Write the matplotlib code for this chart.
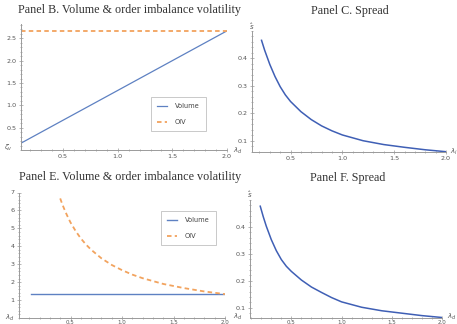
import matplotlib
matplotlib.use("Agg")
import matplotlib.pyplot as plt
from matplotlib.ticker import MultipleLocator

W, H = 457, 324

# Panel B: volume & OIV vs lambda
lam_b = [0.115, 0.5, 1.0, 1.5, 2.0]
vol_b = [0.153, 0.667, 1.333, 2.0, 2.667]
oiv_b = [2.667, 2.667, 2.667, 2.667, 2.667]

# Panel C: spread vs lambda_i
lam_c = [0.22, 0.25, 0.3, 0.35, 0.4, 0.45, 0.5, 0.6, 0.7, 0.8, 0.9, 1.0, 1.2, 1.4, 1.6, 1.8, 2.0]
spr_c = [0.466, 0.430, 0.378, 0.334, 0.297, 0.267, 0.243, 0.206, 0.177, 0.154, 0.136, 0.121,
         0.100, 0.086, 0.076, 0.067, 0.060]

# Panel E: volume & OIV vs lambda_d
lam_e = [0.12, 0.4, 1.0, 2.0]
vol_e = [1.333, 1.333, 1.333, 1.333]
lam_e_oiv = [0.4, 0.42, 0.45, 0.48, 0.5, 0.55, 0.6, 0.65, 0.7, 0.8, 0.9, 1.0, 1.1, 1.2, 1.4, 1.6, 1.8, 2.0]
oiv_e = [6.67, 6.35, 5.93, 5.56, 5.33, 4.85, 4.44, 4.10, 3.81, 3.33, 2.96, 2.67, 2.42, 2.22,
         1.90, 1.67, 1.48, 1.333]

# Panel F: spread vs lambda_d
lam_f = [0.19, 0.22, 0.25, 0.3, 0.35, 0.4, 0.45, 0.5, 0.6, 0.7, 0.8, 0.9, 1.0, 1.2, 1.4, 1.6, 1.8, 2.0]
spr_f = [0.477, 0.438, 0.403, 0.353, 0.312, 0.279, 0.254, 0.235, 0.203, 0.177, 0.157, 0.138,
         0.122, 0.102, 0.089, 0.080, 0.071, 0.064]

BLUE = "#5e81c2"
DBLUE = "#3f5fb5"
ORANGE = "#f2a35e"
AXC = "#9a9a9a"
TXT = "#555555"

fig = plt.figure(figsize=(W / 100, H / 100), dpi=100)
fig.patch.set_facecolor("white")


def make_ax(left, right, top, bottom, xlim, ylim, xpad=1.5, xsize=4.6):
    ax = fig.add_axes([left / W, 1 - bottom / H, (right - left) / W, (bottom - top) / H])
    ax.set_xlim(*xlim)
    ax.set_ylim(*ylim)
    for s in ("top", "right"):
        ax.spines[s].set_visible(False)
    for s in ("left", "bottom"):
        ax.spines[s].set_color(AXC)
        ax.spines[s].set_linewidth(0.7)
    ax.tick_params(which="both", direction="inout", colors=AXC, labelcolor=TXT,
                   labelsize=4.6, width=0.5, pad=1.5)
    ax.tick_params(axis="x", pad=xpad, labelsize=xsize)
    ax.tick_params(which="major", length=3)
    ax.tick_params(which="minor", length=1.5)
    ax.patch.set_alpha(0)
    ax.set_xticks([0.5, 1.0, 1.5, 2.0])
    ax.set_xticklabels(["0.5", "1.0", "1.5", "2.0"])
    ax.xaxis.set_minor_locator(MultipleLocator(0.1))
    return ax


def add_legend(ax, x, y):
    leg = ax.legend(loc="upper left", bbox_to_anchor=(x / W, 1 - y / H), bbox_transform=fig.transFigure,
                    fontsize=4.8, frameon=True, fancybox=False, handlelength=1.5, labelspacing=1.5,
                    borderpad=0.9, handletextpad=1.2, borderaxespad=0)
    leg.get_frame().set_edgecolor("#b0b0b0")
    leg.get_frame().set_linewidth(0.6)
    for t in leg.get_texts():
        t.set_color("#444444")


# Panel B
axb = make_ax(21, 227, 24, 150, (0.115, 2.0), (0, 2.82))
axb.plot(lam_b, vol_b, color=BLUE, lw=0.9, label="Volume")
axb.plot(lam_b, oiv_b, color=ORANGE, lw=1.3, ls=(0, (2.5, 1.8)), label="OIV")
axb.set_yticks([0.5, 1.0, 1.5, 2.0, 2.5])
axb.yaxis.set_minor_locator(MultipleLocator(0.1))
add_legend(axb, 151, 97)

# Panel C
axc = make_ax(252, 446, 31, 151.7, (0.128, 2.0), (0.06, 0.5))
axc.plot(lam_c, spr_c, color=DBLUE, lw=1.1)
axc.set_yticks([0.1, 0.2, 0.3, 0.4])
axc.yaxis.set_minor_locator(MultipleLocator(0.02))

# Panel E
axe = make_ax(19, 225, 192.5, 318, (0.0, 2.0), (0, 7), xpad=0.2, xsize=4.0)
axe.plot(lam_e, vol_e, color=BLUE, lw=1.0, label="Volume")
axe.plot(lam_e_oiv, oiv_e, color=ORANGE, lw=1.3, ls=(0, (2.5, 1.8)), label="OIV")
axe.set_yticks([1, 2, 3, 4, 5, 6, 7])
axe.yaxis.set_minor_locator(MultipleLocator(0.2))
add_legend(axe, 161, 211)

# Panel F
axf = make_ax(249.7, 442, 200, 317.5, (0.085, 2.0), (0.064, 0.5), xpad=0.2, xsize=4.0)
axf.plot(lam_f, spr_f, color=DBLUE, lw=1.1)
axf.set_yticks([0.1, 0.2, 0.3, 0.4])
axf.yaxis.set_minor_locator(MultipleLocator(0.02))

# axis labels
lab = dict(fontsize=5, color=TXT, ha="center", va="center")
fig.text(8 / W, 1 - 148 / H, r"$\zeta_v$", **lab)
fig.text(238 / W, 1 - 151 / H, r"$\lambda_d$", **lab)
fig.text(252 / W, 1 - 27 / H, r"$\hat{s}$", **lab)
fig.text(454 / W, 1 - 152 / H, r"$\lambda_i$", **lab)
fig.text(10 / W, 1 - 318 / H, r"$\lambda_d$", **lab)
fig.text(238 / W, 1 - 317 / H, r"$\lambda_d$", **lab)
fig.text(250 / W, 1 - 195 / H, r"$\hat{s}$", **lab)
fig.text(452 / W, 1 - 317 / H, r"$\lambda_d$", **lab)

# titles
ttl = dict(fontsize=8.7, family="Liberation Serif", color="#333333", ha="center", va="center")
fig.text(129 / W, 1 - 10 / H, "Panel B. Volume & order imbalance volatility", **ttl)
fig.text(350 / W, 1 - 11 / H, "Panel C. Spread", **ttl)
fig.text(130 / W, 1 - 177 / H, "Panel E. Volume & order imbalance volatility", **ttl)
fig.text(348 / W, 1 - 178 / H, "Panel F. Spread", **ttl)

fig.savefig("out.png", dpi=100)
